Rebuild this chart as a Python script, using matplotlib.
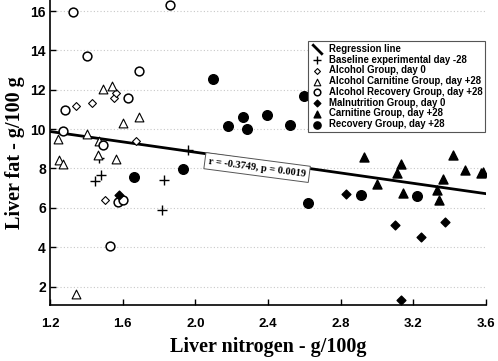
import numpy as np
import matplotlib
matplotlib.use('Agg')
import matplotlib.pyplot as plt
from matplotlib.path import Path

# data (liver nitrogen, liver fat)
baseline_x = [1.471, 1.481, 1.449, 1.829, 1.815, 1.961]
baseline_y = [8.51, 7.65, 7.36, 7.44, 5.87, 8.93]

alc0_x = [1.343, 1.431, 1.552, 1.563, 1.673, 1.504]
alc0_y = [11.19, 11.33, 11.58, 11.86, 9.42, 6.38]

alc_carn_x = [1.490, 1.541, 1.692, 1.600, 1.402, 1.244, 1.471, 1.251, 1.273, 1.462, 1.561, 1.343]
alc_carn_y = [12.04, 12.17, 10.62, 10.31, 9.76, 9.50, 9.40, 8.41, 8.25, 8.67, 8.46, 1.62]

alc_rec_x = [1.328, 1.402, 1.860, 1.692, 1.631, 1.281, 1.273, 1.490, 1.574, 1.603, 1.530]
alc_rec_y = [15.93, 13.69, 16.30, 12.93, 11.58, 10.95, 9.92, 9.18, 6.28, 6.38, 4.07]

maln_x = [1.581, 2.827, 3.100, 3.242, 3.372, 3.132]
maln_y = [6.65, 6.68, 5.15, 4.54, 5.27, 1.30]

carn_x = [2.930, 2.998, 3.130, 3.108, 3.141, 3.361, 3.332, 3.339, 3.419, 3.482, 3.574, 3.581]
carn_y = [8.56, 7.22, 8.22, 7.76, 6.77, 7.48, 6.89, 6.42, 8.69, 7.93, 7.78, 7.81]

rec_x = [1.662, 1.930, 2.099, 2.600, 2.393, 2.260, 2.181, 2.283, 2.521, 2.622, 2.910, 3.222]
rec_y = [7.58, 7.98, 12.56, 11.70, 10.73, 10.60, 10.14, 10.01, 10.19, 6.26, 6.63, 6.60]

# regression line end points
reg_x = [1.2, 3.6]
reg_y = [9.88, 6.72]

x_ticks = [1.2, 1.6, 2.0, 2.4, 2.8, 3.2, 3.6]
y_ticks = [2, 4, 6, 8, 10, 12, 14, 16]

fig = plt.figure(figsize=(4.98, 3.61), dpi=100)
ax = fig.add_axes([0.1004, 0.1543, 0.8755, 0.8457])

ax.set_xlim(1.2, 3.6)
ax.set_ylim(1.05, 16.56)

ax.yaxis.grid(True, linestyle=(0, (1, 2)), color='#c8c8c8', linewidth=0.8)
ax.set_axisbelow(True)

slash = Path([(-1, 1), (1, -1)], [Path.MOVETO, Path.LINETO])

ax.plot(reg_x, reg_y, color='black', lw=2, zorder=2)
ax.plot([], [], color='black', linestyle='none', marker=slash, markersize=10,
        markeredgewidth=2, label='Regression line')

ax.scatter(baseline_x, baseline_y, marker='+', s=50, c='black', linewidths=1,
           label='Baseline experimental day -28', zorder=3)
ax.scatter(alc0_x, alc0_y, marker='D', s=16, facecolors='white', edgecolors='black',
           linewidths=0.8, label='Alcohol Group, day 0', zorder=3)
ax.scatter(alc_carn_x, alc_carn_y, marker='^', s=40, facecolors='white', edgecolors='black',
           linewidths=0.8, label='Alcohol Carnitine Group, day +28', zorder=3)
ax.scatter(alc_rec_x, alc_rec_y, marker='o', s=40, facecolors='white', edgecolors='black',
           linewidths=1.1, label='Alcohol Recovery Group, day +28', zorder=3)
ax.scatter(maln_x, maln_y, marker='D', s=20, c='black',
           label='Malnutrition Group, day 0', zorder=3)
ax.scatter(carn_x, carn_y, marker='^', s=42, c='black',
           label='Carnitine Group, day +28', zorder=3)
ax.scatter(rec_x, rec_y, marker='o', s=48, c='black',
           label='Recovery Group, day +28', zorder=3)

ax.text(2.34, 8.05, 'r = -0.3749, p = 0.0019', family='Liberation Serif', fontweight='bold',
        fontsize=7.5, rotation=-7.5, ha='center', va='center', zorder=4,
        bbox=dict(boxstyle='square,pad=0.35', facecolor='white', edgecolor='#555555', linewidth=0.7))

for side in ['top', 'right']:
    ax.spines[side].set_visible(False)
ax.spines['left'].set_linewidth(1.2)
ax.spines['bottom'].set_linewidth(1.2)

ax.set_xticks(x_ticks)
ax.set_xticklabels(['%.1f' % v for v in x_ticks])
ax.set_yticks(y_ticks)
ax.tick_params(direction='in', length=4, width=1)
for lab in ax.get_xticklabels():
    lab.set_family('Liberation Sans')
    lab.set_fontweight('bold')
    lab.set_fontsize(9.5)
for lab in ax.get_yticklabels():
    lab.set_family('Liberation Sans')
    lab.set_fontweight('bold')
    lab.set_fontsize(10)
ax.tick_params(axis='x', pad=9)
ax.tick_params(axis='y', pad=3)

ax.set_xlabel('Liver nitrogen - g/100g', family='Liberation Serif', fontweight='bold',
              fontsize=14.5, labelpad=5)
ax.set_ylabel('Liver fat - g/100 g', family='Liberation Serif', fontweight='bold',
              fontsize=14.5, labelpad=4)

leg = ax.legend(loc='upper right', bbox_to_anchor=(485 / 498, 1 - 41 / 361),
                bbox_transform=fig.transFigure, frameon=True, fancybox=False,
                edgecolor='#555555', framealpha=1, borderpad=0.3, labelspacing=0.08,
                handlelength=1.3, handletextpad=0.5, borderaxespad=0, markerscale=0.75,
                prop={'family': 'Liberation Sans', 'weight': 'bold', 'size': 6.9})
leg.get_frame().set_linewidth(0.8)

fig.savefig('out.png', dpi=100)
